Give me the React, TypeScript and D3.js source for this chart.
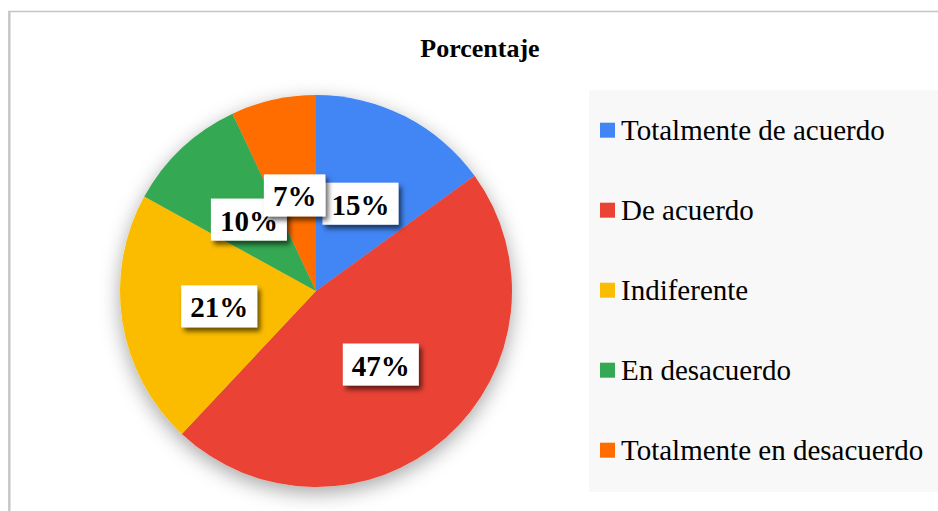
import React from "react";
import * as d3 from "d3";

const categories = [
  "Totalmente de acuerdo",
  "De acuerdo",
  "Indiferente",
  "En desacuerdo",
  "Totalmente en desacuerdo",
];
const values = [15, 47, 21, 10, 7];
const colors = ["#4285F4", "#EA4335", "#FBBC04", "#34A853", "#FF6D01"];
const title = "Porcentaje";

const W = 938;
const H = 511;
const cx = 316;
const cy = 291;
const R = 196;
const serif = "'Times New Roman', 'Liberation Serif', serif";

export default function App() {
  const pie = d3.pie<number>().sort(null).value((d) => d);
  const arcs = pie(values);
  const arcGen = d3.arc<d3.PieArcDatum<number>>().innerRadius(0).outerRadius(R);
  const total = d3.sum(values);
  const legendY = d3.scalePoint<string>().domain(categories).range([140, 460]);

  const labelFont = 29;
  const estWidth = (s: string) =>
    s.split("").reduce((a, c) => a + (c === "%" ? 1.0 : 0.5), 0) * labelFont;

  return (
    <svg
      width={W}
      height={H}
      style={{ position: "absolute", left: 0, top: 0, background: "#fff" }}
    >
      <defs>
        <filter id="pieShadow" x="-30%" y="-30%" width="160%" height="160%">
          <feDropShadow dx="0" dy="6" stdDeviation="10" floodColor="#000" floodOpacity="0.35" />
        </filter>
        <filter id="boxShadow" x="-30%" y="-40%" width="160%" height="180%">
          <feDropShadow dx="3" dy="4" stdDeviation="2.5" floodColor="#000" floodOpacity="0.6" />
        </filter>
      </defs>
      <rect x={9} y={11.5} width={960} height={520} fill="#fff" stroke="#c4c4c4" strokeWidth={1.5} />
      <line x1={9.5} y1={11} x2={9.5} y2={H} stroke="#c4c4c4" strokeWidth={2} />
      <text
        x={480}
        y={56.5}
        textAnchor="middle"
        fontFamily={serif}
        fontWeight="bold"
        fontSize={26}
        fill="#000"
      >
        {title}
      </text>
      <g transform={`translate(${cx},${cy})`} filter="url(#pieShadow)">
        {arcs.map((a, i) => (
          <path key={i} d={arcGen(a) || ""} fill={colors[i]} />
        ))}
      </g>
      <g transform={`translate(${cx},${cy})`}>
        {arcs.map((a, i) => {
          const [lx, ly] = arcGen.centroid(a);
          const label = `${Math.round((values[i] / total) * 100)}%`;
          const tw = estWidth(label);
          const bw = tw + 18;
          const bh = 42;
          return (
            <g key={i}>
              <rect
                x={lx - bw / 2}
                y={ly - bh / 2}
                width={bw}
                height={bh}
                fill="#fff"
                filter="url(#boxShadow)"
              />
              <text
                x={lx}
                y={ly + 11}
                textAnchor="middle"
                fontFamily={serif}
                fontWeight="bold"
                fontSize={labelFont}
                fill="#000"
              >
                {label}
              </text>
            </g>
          );
        })}
      </g>
      <rect x={589} y={90} width={360} height={402} fill="#f8f8f8" />
      {categories.map((c, i) => {
        const y = legendY(c) as number;
        return (
          <g key={c}>
            <rect x={600} y={y - 17.3} width={15} height={15} fill={colors[i]} />
            <text x={621} y={y} fontFamily={serif} fontSize={29} fill="#000">
              {c}
            </text>
          </g>
        );
      })}
    </svg>
  );
}
